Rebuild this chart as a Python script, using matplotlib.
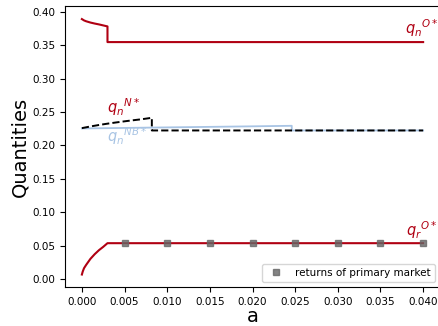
import matplotlib
matplotlib.use("Agg")
import matplotlib.pyplot as plt

# Data
a_qnO = [0.0, 0.00025, 0.0005, 0.001, 0.0015, 0.002, 0.0025, 0.003, 0.003, 0.04]
qnO = [0.3895, 0.3875, 0.3862, 0.3843, 0.3828, 0.3815, 0.3800, 0.3785, 0.355, 0.355]

a_qrO = [0.0, 0.0001, 0.00025, 0.0005, 0.001, 0.0015, 0.002, 0.0025, 0.003, 0.04]
qrO = [0.0065, 0.011, 0.016, 0.021, 0.030, 0.037, 0.043, 0.048, 0.0535, 0.0535]

a_qnN = [0.0, 0.001, 0.002, 0.003, 0.004, 0.005, 0.006, 0.007, 0.0082, 0.0082, 0.04]
qnN = [0.226, 0.2285, 0.2307, 0.2327, 0.2345, 0.2362, 0.2378, 0.2393, 0.2415, 0.2225, 0.2225]

a_qnNB = [0.0, 0.005, 0.010, 0.015, 0.020, 0.0246, 0.0246, 0.04]
qnNB = [0.2255, 0.2263, 0.2271, 0.2279, 0.2287, 0.2295, 0.2225, 0.2225]

a_ret = [0.005, 0.010, 0.015, 0.020, 0.025, 0.030, 0.035, 0.040]
ret = [0.0535] * 8

xticks = [0.000, 0.005, 0.010, 0.015, 0.020, 0.025, 0.030, 0.035, 0.040]
yticks = [0.00, 0.05, 0.10, 0.15, 0.20, 0.25, 0.30, 0.35, 0.40]

red = '#b00012'
blue = '#a8c4e4'

fig = plt.figure(figsize=(4.38, 3.26), dpi=100)
ax = fig.add_axes([0.148, 0.119, 0.857, 0.863])

ax.plot(a_qnNB, qnNB, color=blue, lw=1.3)
ax.plot(a_qnN, qnN, color='black', lw=1.4, ls='--')
ax.plot(a_qnO, qnO, color=red, lw=1.5)
ax.plot(a_qrO, qrO, color=red, lw=1.5)
ax.plot(a_ret, ret, ls='none', marker='s', ms=4, color='#666666', alpha=0.8,
        label='returns of primary market')

ax.text(0.0379, 0.3665, r'$q_n{}^{O*}$', color=red, fontsize=10.5)
ax.text(0.0030, 0.2490, r'$q_n{}^{N*}$', color=red, fontsize=10.5)
ax.text(0.0030, 0.2050, r'$q_n{}^{NB*}$', color=blue, fontsize=10.5)
ax.text(0.0380, 0.0645, r'$q_r{}^{O*}$', color=red, fontsize=10.5)

ax.set_xlim(-0.002, 0.042)
ax.set_ylim(-0.0125, 0.4093)
ax.set_xticks(xticks)
ax.set_xticklabels([f'{v:.3f}' for v in xticks])
ax.set_yticks(yticks)
ax.set_yticklabels([f'{v:.2f}' for v in yticks])
ax.tick_params(labelsize=7.5)
ax.set_xlabel('a', fontsize=14, labelpad=0)
ax.set_ylabel('Quantities', fontsize=14, labelpad=2)
ax.legend(loc='lower right', fontsize=7.5)

fig.savefig('out.png', dpi=100)
